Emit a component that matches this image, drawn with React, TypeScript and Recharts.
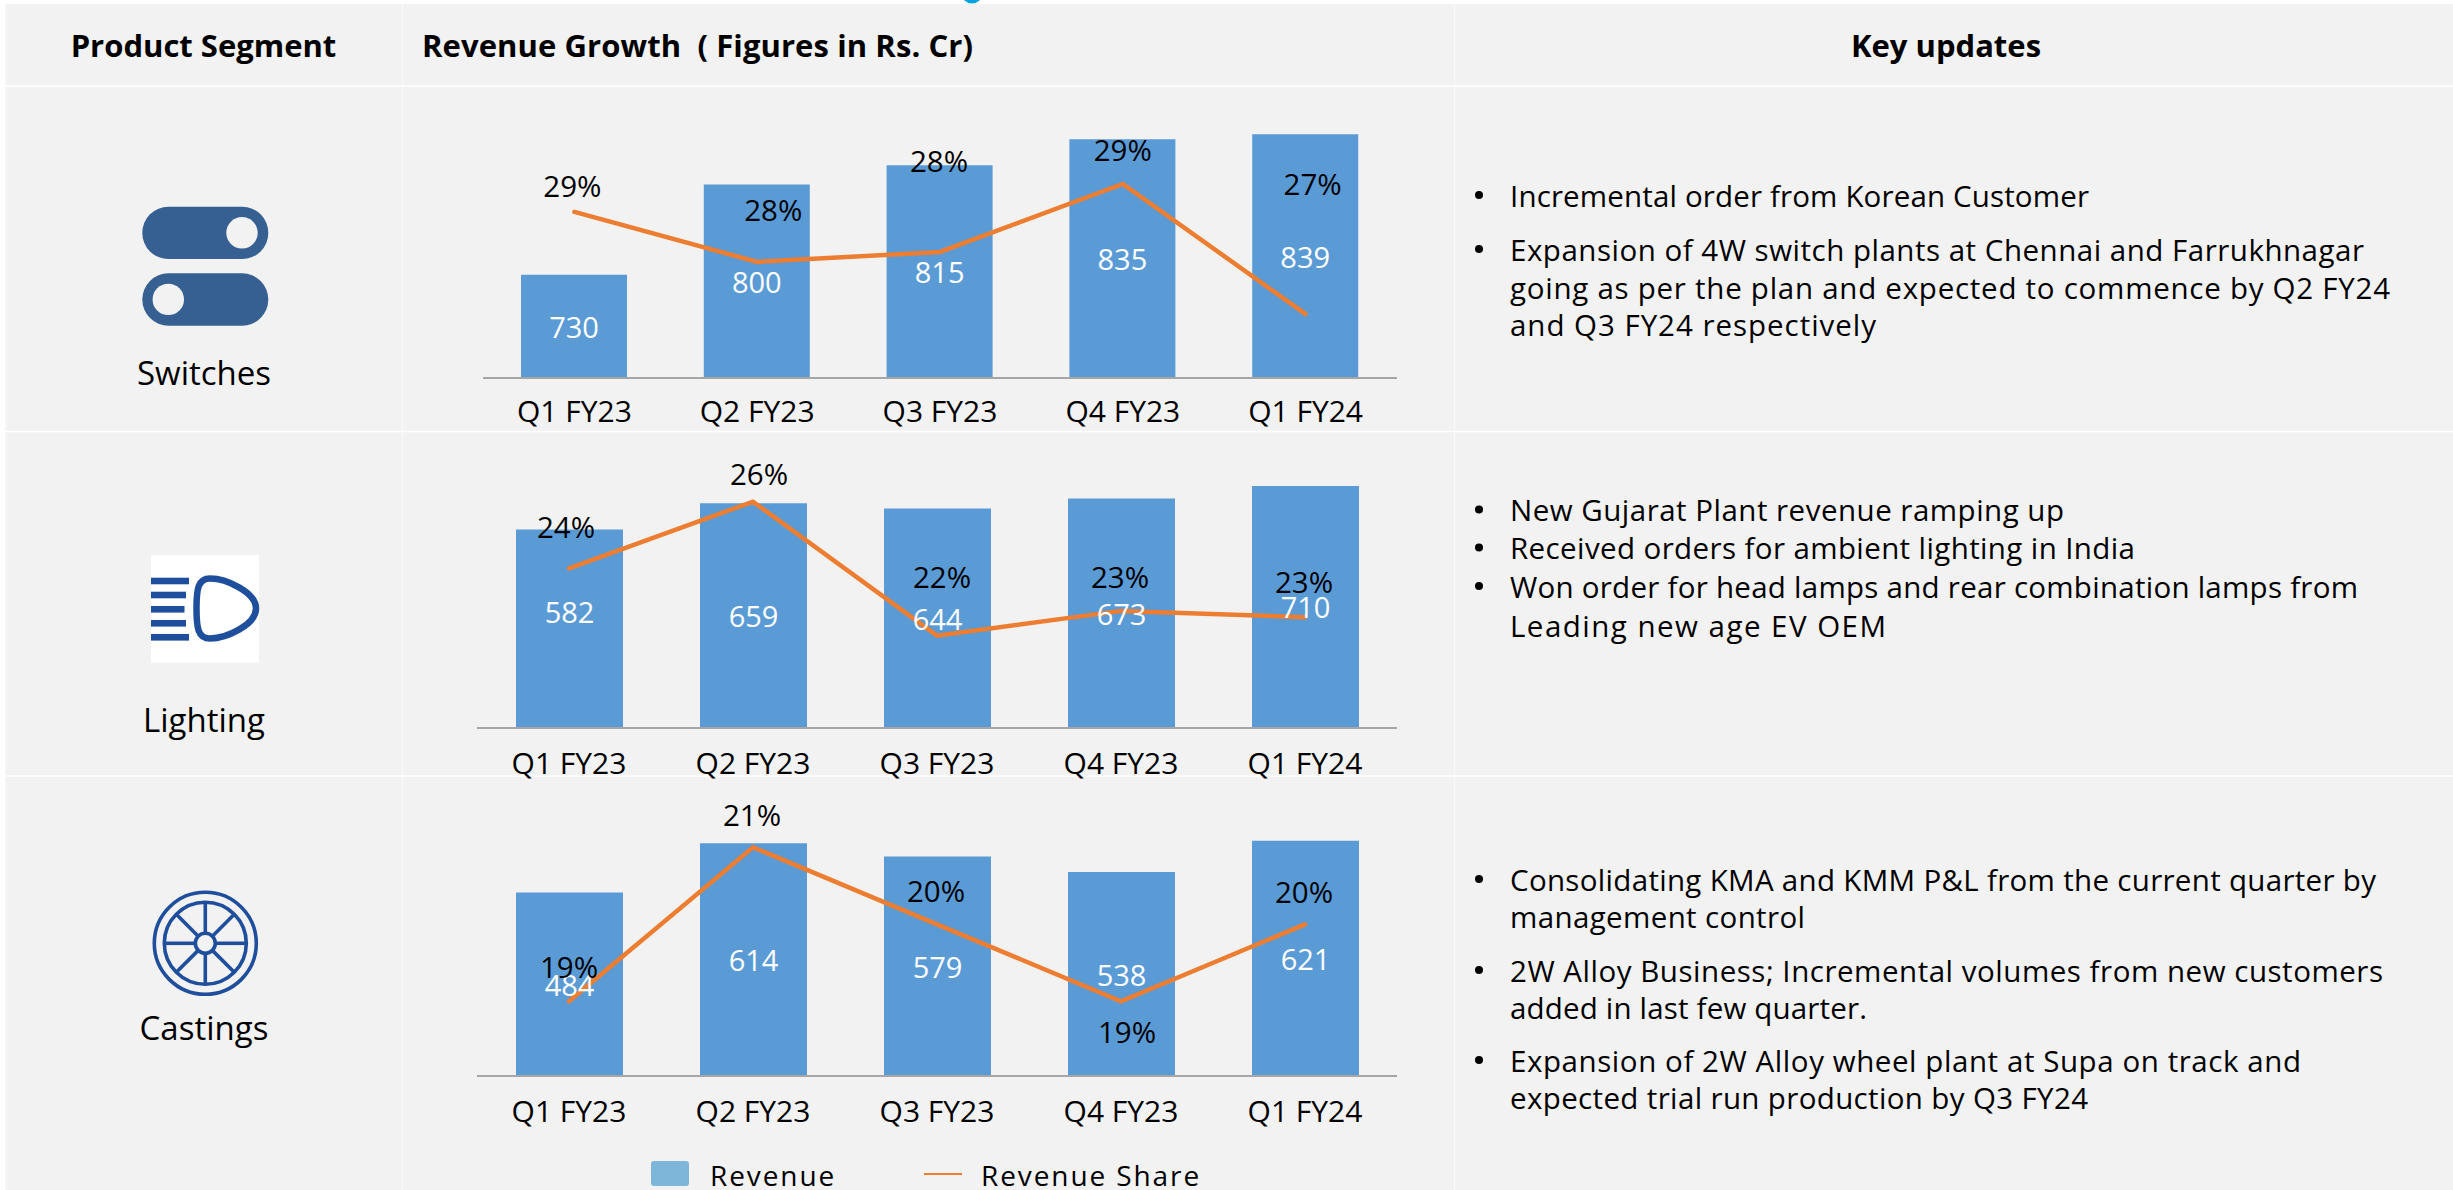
import React from "react";
import { ComposedChart, Bar, Line, XAxis, YAxis, LabelList, Legend } from "recharts";

const quarters = ["Q1 FY23", "Q2 FY23", "Q3 FY23", "Q4 FY23", "Q1 FY24"];

const switchesRevenue = [730, 800, 815, 835, 839];
const switchesShare = [28.78, 27.67, 27.89, 29.4, 26.51];
const lightingRevenue = [582, 659, 644, 673, 710];
const lightingShare = [24.01, 26, 22, 22.74, 22.55];
const castingsRevenue = [484, 614, 579, 538, 621];
const castingsShare = [19, 21, 20, 19, 20];

const switchesUpdates = [
  "Incremental order from Korean Customer",
  "Expansion of 4W switch plants at Chennai and Farrukhnagar",
  "going as per the plan and expected to commence by Q2 FY24",
  "and Q3 FY24 respectively",
];
const lightingUpdates = [
  "New Gujarat Plant revenue ramping up",
  "Received orders for ambient lighting in India",
  "Won order for head lamps and rear combination lamps from",
  "Leading new age EV OEM",
];
const castingsUpdates = [
  "Consolidating KMA and KMM P&L from the current quarter by",
  "management control",
  "2W Alloy Business; Incremental volumes from new customers",
  "added in last few quarter.",
  "Expansion of 2W Alloy wheel plant at Supa on track and",
  "expected trial run production by Q3 FY24",
];

// Layout of the update lines: [y, text width, has bullet]
const switchesLayout = [[195, 579, 1], [249, 854, 1], [287, 880, 0], [324, 366, 0]];
const lightingLayout = [[509.5, 554, 1], [547.5, 625, 1], [586, 848, 1], [625, 376, 0]];
const castingsLayout = [[879, 866, 1], [916, 295, 0], [970, 873, 1], [1007, 357, 0], [1060, 791, 1], [1097, 578, 0]];

const FONT = "'Open Sans', sans-serif";
const BAR = "#5B9BD5";
const ORANGE = "#ED7D31";
const ICON = "#1F4E9C";
const PANEL = "#F2F2F2";

const toRows = (revenue: number[], share: number[]) =>
  quarters.map((q, i) => ({ q, revenue: revenue[i], share: share[i] }));

const ShareLabel = (offsets: number[][]) => (props: any) => {
  const { x, y, index, value } = props;
  const [dx, dy] = offsets[index];
  return (
    <text x={x + dx} y={y + dy} textAnchor="middle" dominantBaseline="central" fontSize={29.5} fontFamily={FONT} fill="#000">
      {Math.round(value)}%
    </text>
  );
};

const RevenueLabel = (offsets: number[]) => (props: any) => {
  const { x, y, width, height, index, value } = props;
  return (
    <text x={x + width / 2} y={y + height / 2 + offsets[index]} textAnchor="middle" dominantBaseline="central" fontSize={29} fontFamily={FONT} fill="#fff">
      {value}
    </text>
  );
};

const LegendContent = () => (
  <svg width={620} height={50} style={{ display: "block", overflow: "visible" }}>
    <rect x={31} y={21} width={38} height={25} rx={3} fill="#7DB6D8" />
    <text x={90} y={35} dominantBaseline="central" fontSize={28} fontFamily={FONT} letterSpacing={1.9} fill="#000">Revenue</text>
    <line x1={304} x2={342} y1={34} y2={34} stroke={ORANGE} strokeWidth={2} />
    <text x={361} y={35} dominantBaseline="central" fontSize={28} fontFamily={FONT} letterSpacing={1.9} fill="#000">Revenue Share</text>
  </svg>
);

type PanelProps = {
  left: number;
  top: number;
  bottom: number;
  plotWidth: number;
  barSize: number;
  tickMargin: number;
  revenue: number[];
  share: number[];
  revDomain: number[];
  shareDomain: number[];
  shareOffsets: number[][];
  revOffsets: number[];
  legend?: boolean;
};

const Panel = ({ left, top, bottom, plotWidth, barSize, tickMargin, revenue, share, revDomain, shareDomain, shareOffsets, revOffsets, legend }: PanelProps) => {
  const axisH = 60;
  const extra = legend ? 114 - axisH : 0;
  return (
    <div style={{ position: "absolute", left, top, width: plotWidth, height: bottom - top + axisH + extra }}>
      <ComposedChart
        width={plotWidth}
        height={bottom - top + axisH + extra}
        data={toRows(revenue, share)}
        margin={{ top: 0, right: 0, bottom: extra, left: 0 }}
        barCategoryGap={0}
      >
        <XAxis
          dataKey="q"
          height={axisH}
          interval={0}
          tickLine={false}
          axisLine={{ stroke: "#A6A6A6", strokeWidth: 2 }}
          tick={{ fontSize: 30, fontFamily: FONT, fill: "#000" }}
          tickMargin={tickMargin}
        />
        <YAxis yAxisId="rev" hide domain={revDomain} allowDataOverflow />
        <YAxis yAxisId="share" hide orientation="right" domain={shareDomain} allowDataOverflow />
        <Bar yAxisId="rev" name="Revenue" dataKey="revenue" fill={BAR} barSize={barSize} isAnimationActive={false}>
          <LabelList dataKey="revenue" content={RevenueLabel(revOffsets)} />
        </Bar>
        <Line yAxisId="share" name="Revenue Share" type="linear" dataKey="share" stroke={ORANGE} strokeWidth={4.5} strokeLinecap="round" dot={false} isAnimationActive={false}>
          <LabelList dataKey="share" content={ShareLabel(shareOffsets)} />
        </Line>
        {legend && (
          <Legend
            layout="horizontal"
            verticalAlign="middle"
            align="center"
            content={<LegendContent />}
            wrapperStyle={{ left: 620 - left, top: 1140 - top, width: 620, height: 50 }}
          />
        )}
      </ComposedChart>
    </div>
  );
};

const Updates = ({ lines, layout }: { lines: string[]; layout: number[][] }) => (
  <>
    {lines.map((text, i) => {
      const [y, w, bullet] = layout[i];
      return (
        <g key={text}>
          {bullet ? <circle cx={1479} cy={y} r={4} fill="#000" /> : null}
          <text x={1510} y={y} dominantBaseline="central" fontSize={29.5} fontFamily={FONT} fill="#000" textLength={w} lengthAdjust="spacing">
            {text}
          </text>
        </g>
      );
    })}
  </>
);

const lampBars = [
  [577.7, 189],
  [591.7, 186],
  [606, 184.5],
  [620, 186],
  [634, 189],
];
const spokeAngles = [0, 45, 90, 135, 180, 225, 270, 315];

const Background = () => (
  <svg width={2453} height={1190} style={{ position: "absolute", left: 0, top: 0 }}>
    <rect width={2453} height={1190} fill="#fff" />
    <circle cx={972} cy={-7} r={10.5} fill="#00A3E0" />
    <rect x={5.5} y={4} width={2448} height={1186} fill={PANEL} />
    <g stroke="#fff" strokeWidth={1.5}>
      <line x1={5} x2={2453} y1={86} y2={86} />
      <line x1={5} x2={2453} y1={431.5} y2={431.5} />
      <line x1={5} x2={2453} y1={776} y2={776} />
    </g>
    <g stroke="#fafafa" strokeWidth={1}>
      <line x1={402.5} x2={402.5} y1={4} y2={1190} />
      <line x1={1454.5} x2={1454.5} y1={4} y2={1190} />
    </g>

    <g fontFamily={FONT} fontSize={31} fontWeight={700} fill="#000" dominantBaseline="central">
      <text x={203.5} y={45} textAnchor="middle">Product Segment</text>
      <text x={422} y={45} xmlSpace="preserve" textLength={551} lengthAdjust="spacing">Revenue Growth  ( Figures in Rs. Cr)</text>
      <text x={1946} y={45} textAnchor="middle">Key updates</text>
    </g>

    <g fontFamily={FONT} fontSize={33} fill="#000" textAnchor="middle" dominantBaseline="central">
      <text x={204} y={372}>Switches</text>
      <text x={204} y={719}>Lighting</text>
      <text x={204} y={1027}>Castings</text>
    </g>

    <g fill="#366092">
      <rect x={142.3} y={206.7} width={126} height={52.4} rx={26.2} />
      <rect x={142.3} y={273.3} width={126} height={52.4} rx={26.2} />
    </g>
    <circle cx={242} cy={232.8} r={15.7} fill={PANEL} />
    <circle cx={168.3} cy={299.4} r={15.7} fill={PANEL} />

    <rect x={151} y={555} width={108} height={107.7} fill="#fff" />
    {lampBars.map(([y, x2]) => (
      <rect key={y} x={151} y={y} width={x2 - 151} height={6.6} fill={ICON} />
    ))}
    <path
      d="M210 578.5 C226 578.5 256 592 256 608.5 C256 625 226 638.5 210 638.5 C198 638.5 196.5 628 196.5 608.5 C196.5 589 198 578.5 210 578.5 Z"
      fill="none"
      stroke={ICON}
      strokeWidth={6.5}
    />

    <g fill="none" stroke={ICON} strokeWidth={3.6}>
      <circle cx={205.3} cy={943.3} r={51} />
      <circle cx={205.3} cy={943.3} r={41} />
      <circle cx={205.3} cy={943.3} r={10} />
      {spokeAngles.map((a) => (
        <line key={a} x1={215.3} x2={246.3} y1={943.3} y2={943.3} transform={`rotate(${a} 205.3 943.3)`} />
      ))}
    </g>

    <Updates lines={switchesUpdates} layout={switchesLayout} />
    <Updates lines={lightingUpdates} layout={lightingLayout} />
    <Updates lines={castingsUpdates} layout={castingsLayout} />
  </svg>
);

export default function App() {
  return (
    <div style={{ position: "absolute", left: 0, top: 0, width: 2453, height: 1190, overflow: "hidden" }}>
      <Background />
      <Panel
        left={483}
        top={100}
        bottom={378}
        plotWidth={914}
        barSize={106}
        tickMargin={17}
        revenue={switchesRevenue}
        share={switchesShare}
        revDomain={[650, 865.5]}
        shareDomain={[25.089, 31.267]}
        shareOffsets={[[-2, -26], [16, -52], [-1, -91], [0, -35], [7, -131]]}
        revOffsets={[0, 0, 0, 0, 0]}
      />
      <Panel
        left={477}
        top={440}
        bottom={728}
        plotWidth={920}
        barSize={107}
        tickMargin={19}
        revenue={lightingRevenue}
        share={lightingShare}
        revDomain={[0, 844.6]}
        shareDomain={[19.245, 27.84]}
        shareOffsets={[[-3, -42], [6, -28], [5, -59], [-1, -34], [-1, -36]]}
        revOffsets={[-17, 0, 0, 0, 0]}
      />
      <Panel
        left={477}
        top={785}
        bottom={1076}
        plotWidth={920}
        barSize={107}
        tickMargin={19}
        revenue={castingsRevenue}
        share={castingsShare}
        revDomain={[0, 767.8]}
        shareDomain={[18.03, 21.809]}
        shareOffsets={[[0, -35], [-1, -33], [-1, -34], [6, 30], [-1, -33]]}
        revOffsets={[0, 0, 0, 0, 0]}
        legend
      />
    </div>
  );
}
